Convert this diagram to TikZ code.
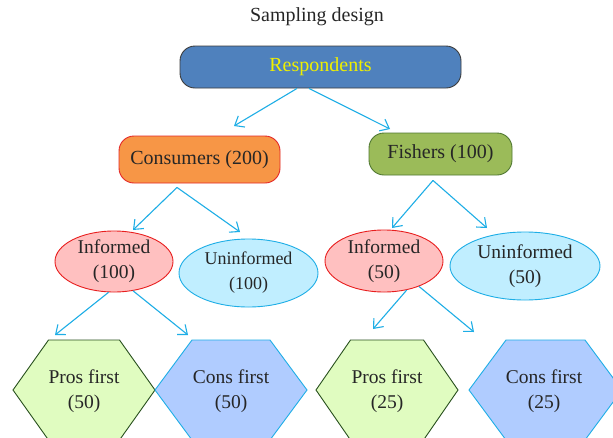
\documentclass[tikz,border=0pt]{standalone}
\usepackage{fontspec}
\setmainfont{Liberation Serif}
\usetikzlibrary{arrows.meta,shapes.geometric}
\definecolor{txt}{RGB}{38,38,38}
\definecolor{arr}{RGB}{30,174,230}
\definecolor{respfill}{RGB}{79,129,189}
\definecolor{respdraw}{RGB}{60,60,60}
\definecolor{resptxt}{RGB}{240,240,0}
\definecolor{consfill}{RGB}{247,150,70}
\definecolor{consdraw}{RGB}{228,40,40}
\definecolor{fishfill}{RGB}{155,187,89}
\definecolor{fishdraw}{RGB}{80,120,50}
\definecolor{inffill}{RGB}{255,192,192}
\definecolor{infdraw}{RGB}{232,30,30}
\definecolor{unfill}{RGB}{192,238,255}
\definecolor{prosfill}{RGB}{224,252,192}
\definecolor{prosdraw}{RGB}{40,80,30}
\definecolor{cfill}{RGB}{176,204,255}
\tikzset{
  txtstyle/.style={text=txt,font=\fontsize{19.5}{25}\selectfont,align=center,inner sep=0pt},
  boxnode/.style={txtstyle,rounded corners=15pt,line width=0.9pt},
  ellnode/.style={txtstyle,ellipse,line width=0.9pt},
  conn/.style={draw=arr,line width=1.1pt,-{Straight Barb[length=8pt,width=13pt,line width=1.1pt]}},
  hexpros/.style={fill=prosfill,draw=prosdraw,line width=0.9pt},
  hexcons/.style={fill=cfill,draw=arr,line width=0.9pt},
}
\begin{document}
\begin{tikzpicture}[x=1pt,y=-1pt]
\useasboundingbox (0,0) rectangle (613,437);
\clip (0,0) rectangle (613,437);
\fill[white] (0,0) rectangle (613,437);

\node[txtstyle,font=\fontsize{20}{24}\selectfont] (title) at (317,17) {Sampling design};

\node[boxnode,fill=respfill,draw=respdraw,text=resptxt,minimum width=281pt,minimum height=42pt,font=\fontsize{20}{24}\selectfont] (resp) at (320.5,67) {Respondents};
\node[boxnode,fill=consfill,draw=consdraw,minimum width=161pt,minimum height=47pt,font=\fontsize{20}{24}\selectfont] (cons) at (199.5,159.5) {Consumers (200)};
\node[boxnode,fill=fishfill,draw=fishdraw,minimum width=143pt,minimum height=42pt,font=\fontsize{20}{24}\selectfont] (fish) at (440.5,154) {Fishers (100)};

\node[ellnode,fill=inffill,draw=infdraw,minimum width=118pt,minimum height=61pt] (inf1) at (114,261.5) {Informed\\(100)};
\node[ellnode,fill=unfill,draw=arr,minimum width=139pt,minimum height=68pt,font=\fontsize{18}{25}\selectfont] (un1) at (248.5,273) {Uninformed\\(100)};
\node[ellnode,fill=inffill,draw=infdraw,minimum width=118pt,minimum height=62pt] (inf2) at (384,261) {Informed\\(50)};
\node[ellnode,fill=unfill,draw=arr,minimum width=150pt,minimum height=68pt] (un2) at (525,266) {Uninformed\\(50)};

% hexagons
\draw[hexpros] (13,390) -- (48.5,340) -- (119.5,340) -- (155,390) -- (119.5,440) -- (48.5,440) -- cycle;
\draw[hexcons] (155,390) -- (192,340) -- (270,340) -- (307,390) -- (270,440) -- (192,440) -- cycle;
\draw[hexpros] (316,390) -- (350.5,340) -- (423.5,340) -- (458,390) -- (423.5,440) -- (350.5,440) -- cycle;
\draw[hexcons] (469,390) -- (506,340) -- (585,340) -- (622,390) -- (585,440) -- (506,440) -- cycle;
\node[txtstyle] (pros1) at (84,391) {Pros first\\(50)};
\node[txtstyle] (cons1) at (231,391) {Cons first\\(50)};
\node[txtstyle] (pros2) at (387,391) {Pros first\\(25)};
\node[txtstyle] (cons2) at (544,391) {Cons first\\(25)};

% arrow tips
\coordinate (t1) at (234,126);
\coordinate (t2) at (390,129);
\coordinate (t3) at (133,230);
\coordinate (t4) at (240,232);
\coordinate (t5) at (392,228);
\coordinate (t6) at (487,228);
\coordinate (t7) at (55,335);
\coordinate (t8) at (188,335);
\coordinate (t9) at (373,329);
\coordinate (t10) at (474,332);

\draw[conn] ([xshift=-23.5pt]resp.south) -- (t1);
\draw[conn] ([xshift=-11.5pt]resp.south) -- (t2);
\draw[conn] ([xshift=-22.5pt,yshift=-4pt]cons.south) -- (t3);
\draw[conn] ([xshift=-22.5pt,yshift=-4pt]cons.south) -- (t4);
\draw[conn] ([xshift=-7.5pt,yshift=-5pt]fish.south) -- (t5);
\draw[conn] ([xshift=-7.5pt,yshift=-5pt]fish.south) -- (t6);
\draw[conn] (inf1.-100) -- (t7);
\draw[conn] (inf1.-57) -- (t8);
\draw[conn] (inf2.-52) -- (t9);
\draw[conn] (inf2.-36) -- (t10);
\end{tikzpicture}
\end{document}
